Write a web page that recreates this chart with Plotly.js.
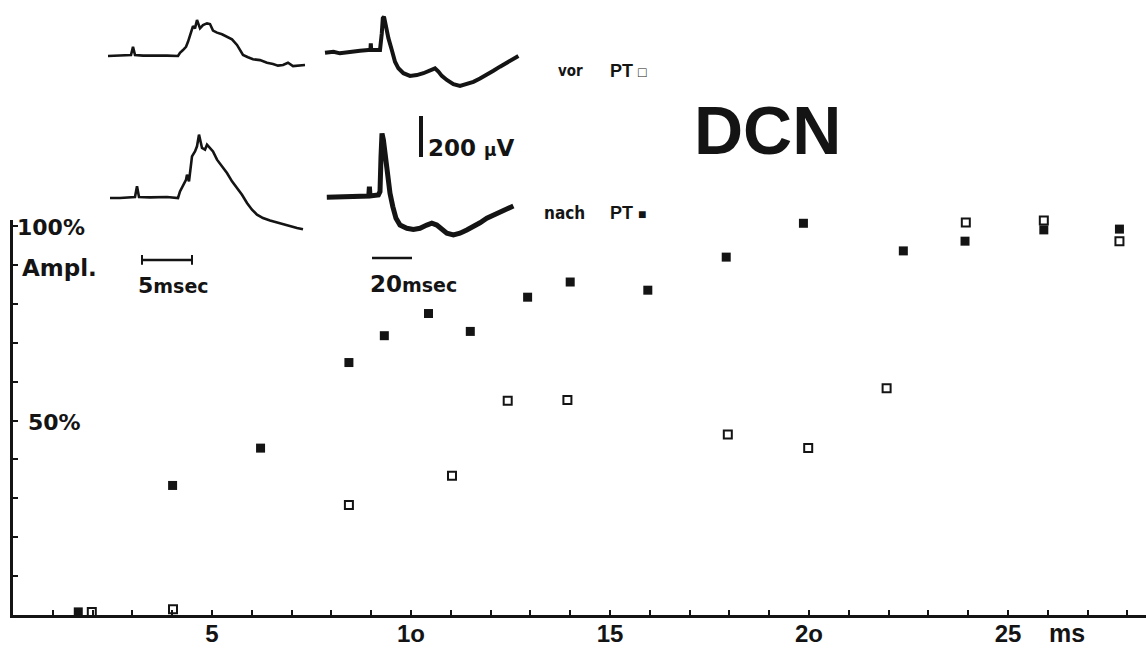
<!DOCTYPE html>
<html>
<head>
<meta charset="utf-8">
<script src="https://cdn.plot.ly/plotly-3.0.1.min.js"></script>
<style>
  html, body { margin: 0; padding: 0; background: #fff; }
  #chart { width: 1146px; height: 648px; }
</style>
</head>
<body>
<div id="chart"></div>
<script>
// ---- Response amplitude (% of maximum) against stimulus interval (ms) ----
// open squares: before PT ("vor PT"), filled squares: after PT ("nach PT")
const tVor  = [1.98, 4.02, 8.44, 11.03, 12.43, 13.93, 17.96, 19.98, 21.95, 23.94, 25.9, 27.8];
const aVor  = [0.8, 1.5, 28.3, 35.8, 55.1, 55.3, 46.4, 42.9, 58.3, 100.9, 101.4, 96.1];
const tNach = [1.64, 4.01, 6.22, 8.44, 9.33, 10.44, 11.49, 12.93, 14.0, 15.95, 17.92, 19.86, 22.37, 23.92, 25.9, 27.8];
const aNach = [0.8, 33.3, 42.9, 64.9, 71.8, 77.5, 72.9, 81.7, 85.6, 83.5, 92.0, 100.7, 93.6, 96.1, 99.0, 99.2];

// ---- Axis ticks ----
const xTickVals  = [1, 2, 3, 4, 5, 6, 7, 8, 9, 10, 11, 12, 13, 14, 15, 16, 17, 18, 19, 20, 21, 22, 23, 24, 25, 26, 27, 28];
const xLabelVals = [5, 10, 15, 20, 25];
const xLabelText = ["5", "1o", "15", "2o", "25"];
const yTickVals  = [0, 10, 20, 30, 40, 50, 60, 70, 80, 90, 100];
const yLabelVals = [50, 100];
const yLabelText = ["\u200250%", "100%"];

// ---- Sample sweeps (time in ms, potential in µV) ----
// fast sweep (5 msec scale), before PT
const sweepFastVorT = [0, 1.2, 2.3, 2.5, 2.7, 3.5, 4.5, 5.9, 7.0, 7.2, 7.5, 7.8, 8.0, 8.3, 8.5, 8.7, 8.9, 9.2, 9.5, 9.9, 10.2, 10.5, 10.9, 11.4, 11.9, 12.4, 12.9, 13.2, 13.5, 14.0, 14.5, 15.2, 15.9, 16.5, 17.0, 17.5, 18.0, 18.5, 19.2, 19.7];
const sweepFastVorV = [0, 2, 5, 45, 5, 2, 3, 2, 0, 16, 29, 45, 69, 110, 146, 135, 176, 135, 151, 159, 156, 124, 114, 106, 94, 81, 54, 29, 5, -6, -16, -20, -33, -39, -47, -44, -33, -49, -44, -44];
// fast sweep, after PT
const sweepFastNachT = [0.2, 1.2, 2.7, 2.9, 3.1, 4.2, 5.9, 7.0, 7.2, 7.5, 7.8, 7.9, 8.1, 8.4, 8.7, 8.9, 9.1, 9.4, 9.7, 9.9, 10.2, 10.5, 10.9, 11.4, 11.9, 12.4, 12.9, 13.4, 13.9, 14.4, 14.9, 15.5, 16.2, 16.9, 17.5, 18.2, 18.9, 19.5];
const sweepFastNachV = [0, 0, 5, 57, 5, 3, 5, 0, 32, 57, 89, 114, 81, 203, 227, 252, 309, 244, 236, 260, 244, 227, 187, 154, 122, 81, 49, 16, -24, -57, -81, -98, -110, -120, -126, -136, -146, -152];
// slow sweep (20 msec scale), before PT
const sweepSlowVorT = [0, 4.2, 7.5, 12.5, 17.5, 21.7, 22.7, 22.9, 23.1, 25.9, 27.5, 28.4, 28.9, 29.5, 30.5, 31.7, 33.4, 35.0, 36.7, 39.2, 42.5, 45.9, 49.2, 52.5, 55.0, 56.7, 58.4, 60.9, 64.2, 67.5, 70.9, 74.2, 77.5, 80.9, 84.2, 87.5, 90.9, 94.2, 96.7];
const sweepSlowVorV = [16, 21, 13, 21, 26, 29, 29, 62, 29, 29, 29, 111, 184, 192, 143, 87, 29, -28, -60, -84, -97, -93, -84, -68, -60, -76, -97, -117, -137, -146, -137, -126, -110, -88, -72, -52, -33, -11, 0];
// slow sweep, after PT
const sweepSlowNachT = [0.9, 7.5, 14.2, 20.9, 21.9, 22.2, 22.5, 26.7, 27.5, 28.0, 28.5, 29.2, 30.0, 30.9, 31.7, 32.5, 33.9, 35.5, 37.5, 40.9, 44.2, 47.5, 50.9, 53.4, 55.9, 58.4, 60.9, 64.2, 67.5, 70.9, 74.2, 77.5, 80.9, 84.2, 87.5, 90.9, 94.2];
const sweepSlowNachV = [4, 6, 6, 10, 10, 55, 10, 15, 31, 202, 315, 283, 218, 153, 88, 23, -42, -99, -132, -148, -153, -148, -132, -123, -132, -153, -172, -180, -172, -156, -140, -121, -99, -83, -67, -50, -39];

// ---- Calibration bars ----
const barFastMs = 5;    // "5msec"
const barSlowMs = 20;   // "20msec"
const barVolt   = 200;  // "200 µV"

// ---- Page geometry ----
const W = 1146, H = 648;
const M = { l: 13, r: 0, t: 0, b: 33 };
const PW = W - M.l - M.r, PH = H - M.t - M.b;
const px = v => (v - M.l) / PW;        // page x (px) -> paper x
const py = v => (PH + M.t - v) / PH;   // page y (px) -> paper y

const INK = '#141414';
const FUT = '"DejaVu Sans", sans-serif';
const ARIAL = '"Liberation Sans", Arial, sans-serif';
const NARROW = '"Liberation Sans Narrow", "DejaVu Sans Condensed", sans-serif';

const xTickText = xTickVals.map(v => { const i = xLabelVals.indexOf(v); return i >= 0 ? xLabelText[i] : ''; });

const sweep = (x, y, xa, ya, w) => ({
  x, y, xaxis: xa, yaxis: ya, type: 'scatter', mode: 'lines',
  line: { color: INK, width: w }, hoverinfo: 'skip', showlegend: false
});

const capMarker = { symbol: 'line-ns-open', size: 7, color: INK, line: { color: INK, width: 2 } };

const data = [
  sweep(sweepFastVorT, sweepFastVorV, 'x2', 'y2', 2.6),
  sweep(sweepFastNachT, sweepFastNachV, 'x2', 'y3', 2.6),
  sweep(sweepSlowVorT, sweepSlowVorV, 'x3', 'y2', 4),
  sweep(sweepSlowNachT, sweepSlowNachV, 'x3', 'y3', 5),
  // calibration bars
  { x: [3.4, 3.4 + barFastMs], y: [-302, -302], xaxis: 'x2', yaxis: 'y3', mode: 'lines+markers',
    line: { color: INK, width: 2.5 }, marker: capMarker, hoverinfo: 'skip', showlegend: false },
  { x: [23.5, 23.5 + barSlowMs], y: [-293, -293], xaxis: 'x3', yaxis: 'y3', mode: 'lines',
    line: { color: INK, width: 2.5 }, hoverinfo: 'skip', showlegend: false },
  { x: [48, 48], y: [200, 200 + barVolt], xaxis: 'x3', yaxis: 'y3', mode: 'lines',
    line: { color: INK, width: 4 }, hoverinfo: 'skip', showlegend: false },
  // amplitude points
  { x: tNach, y: aNach, type: 'scatter', mode: 'markers', name: 'nach PT', cliponaxis: false,
    marker: { symbol: 'square', size: 9, color: INK } },
  { x: tVor, y: aVor, type: 'scatter', mode: 'markers', name: 'vor PT', cliponaxis: false,
    marker: { symbol: 'square', size: 8, color: '#fff', line: { color: INK, width: 2 } } }
];

const ann = (text, x, y, font, xanchor) => ({
  text, x: px(x), y: py(y), xref: 'paper', yref: 'paper', showarrow: false,
  xanchor: xanchor || 'left', yanchor: 'middle', font: Object.assign({ color: INK }, font)
});

// percentage labels sit inside the plot, just right of the amplitude axis
const yLabels = yLabelVals.map((v, i) => ({
  text: yLabelText[i], x: px(15), y: v - 0.4, xref: 'paper', yref: 'y', showarrow: false,
  xanchor: 'left', yanchor: 'middle', font: { family: FUT, size: 22, color: INK, weight: 'bold' }
}));

const layout = {
  width: W, height: H,
  margin: M,
  paper_bgcolor: '#fff', plot_bgcolor: 'rgba(0,0,0,0)',
  showlegend: false,
  xaxis: {
    domain: [0, 1], range: [0, PW / 39.8],
    showline: true, linewidth: 3, linecolor: INK,
    ticks: 'inside', ticklen: 5, tickwidth: 2, tickcolor: INK,
    tickvals: xTickVals, ticktext: xTickText, ticklabelstandoff: -5,
    tickfont: { family: ARIAL, size: 24, color: INK, weight: 'bold' },
    showgrid: false, zeroline: false, fixedrange: true
  },
  yaxis: {
    domain: [0, 395 / PH], range: [0, 395 / 3.89],
    showline: true, linewidth: 3, linecolor: INK,
    ticks: 'inside', ticklen: 5, tickwidth: 2, tickcolor: INK,
    tickvals: yTickVals, showticklabels: false,
    showgrid: false, zeroline: false, fixedrange: true
  },
  xaxis2: { domain: [px(100), px(310)], range: [-0.8, 20.2], visible: false, anchor: 'y2', fixedrange: true },
  xaxis3: { domain: [px(320), px(530)], range: [-2.5, 102.5], visible: false, anchor: 'y2', fixedrange: true },
  yaxis2: { domain: [py(110), py(0)], range: [-263.4, 273.2], visible: false, anchor: 'x2', fixedrange: true },
  yaxis3: { domain: [py(300), py(110)], range: [-497.6, 429.3], visible: false, anchor: 'x2', fixedrange: true },
  annotations: yLabels.concat([
    ann('DCN', 767, 130, { family: ARIAL, size: 68, weight: 'bold' }, 'center'),
    ann('vor', 556, 71, { family: NARROW, size: 15, weight: 'bold' }),
    ann('PT <span style="font-size:14px">\u25A1</span>', 608, 71, { family: ARIAL, size: 18, weight: 'bold' }),
    ann('nach', 542, 213, { family: NARROW, size: 17, weight: 'bold' }),
    ann('PT <span style="font-size:14px">\u25A0</span>', 608, 213, { family: ARIAL, size: 18, weight: 'bold' }),
    ann('200 <span style="font-size:17px">\u00B5</span>V', 426, 148, { family: FUT, size: 23, weight: 'bold' }),
    ann('<span style="font-size:22px">5</span>msec', 136, 285, { family: FUT, size: 19, weight: 'bold' }),
    ann('<span style="font-size:23px">20</span>msec', 368, 284, { family: FUT, size: 19, weight: 'bold' }),
    ann('Ampl.', 20, 268, { family: FUT, size: 23, weight: 'bold' }),
    ann('ms', 1067, 633, { family: ARIAL, size: 25, weight: 'bold' }, 'center')
  ])
};

Plotly.newPlot('chart', data, layout, { displayModeBar: false, staticPlot: true });
</script>
</body>
</html>
